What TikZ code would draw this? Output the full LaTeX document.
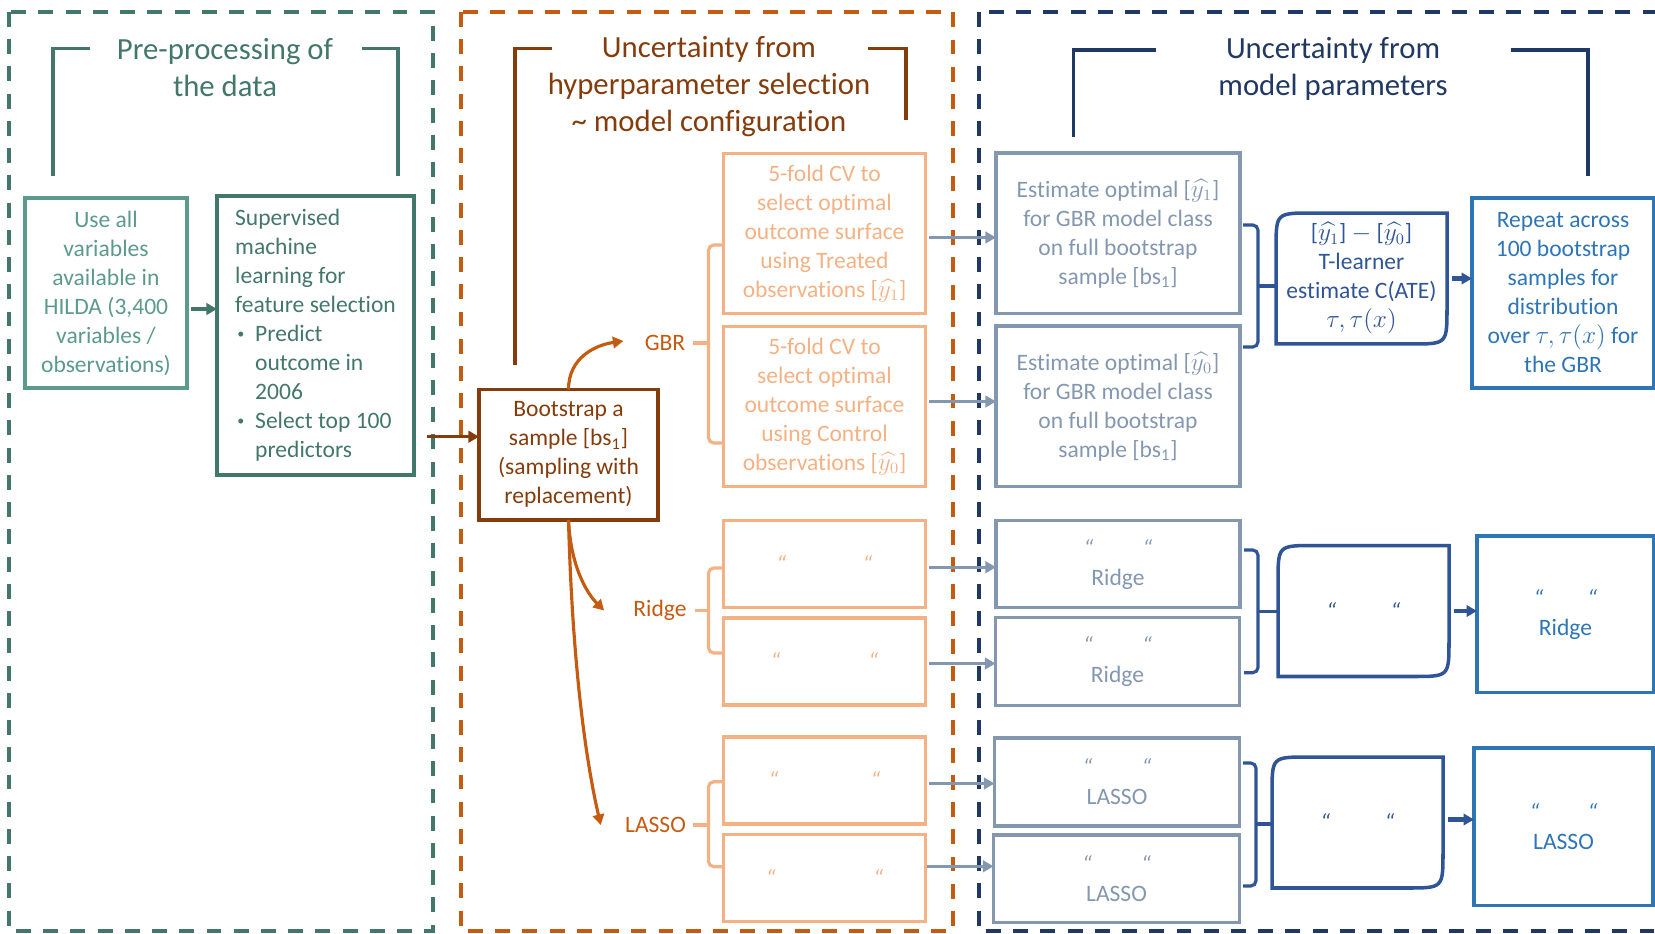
\documentclass[tikz,border=0pt]{standalone}
\usepackage{fontspec}
\setmainfont{Carlito}[Ligatures={TeX,NoCommon}]
\usepackage{amsmath}
\usepackage{xcolor}
\usetikzlibrary{calc}
\usetikzlibrary{arrows.meta}

\definecolor{tealdark}{HTML}{43776B}
\definecolor{teallight}{HTML}{5B9A8D}
\definecolor{brownish}{HTML}{843C0C}
\definecolor{orangeish}{HTML}{C55A11}
\definecolor{peach}{HTML}{F4B183}
\definecolor{greyblue}{HTML}{8497B0}
\definecolor{navy}{HTML}{203864}
\definecolor{midblue}{HTML}{2F5597}
\definecolor{skyblue}{HTML}{2E75B6}

\newcommand{\bodyfont}{\fontsize{13.4}{16.5}\selectfont}
\newcommand{\titlefont}{\fontsize{17.5}{21}\selectfont}
\newcommand{\yhat}[1]{[$\widehat{y_{#1}}$]}
\newcommand{\ditto}[1]{\textit{``}\hspace{#1}\textit{``}}
\newcommand{\bul}{\makebox[11.4pt][l]{\hspace{1.2pt}\raisebox{1.6pt}{\fontsize{8}{8}\selectfont\textbullet}}}
\newcommand{\ind}{\hspace*{11.4pt}}

\tikzset{
  zoneline/.style={line width=1.9pt, dash pattern=on 8.5pt off 7pt},
  headline/.style={line width=1.9pt},
  headtext/.style={align=center, font=\titlefont, inner sep=0pt},
  stagebox/.style={draw, line width=1.8pt, inner sep=0pt, outer sep=0pt, align=center, font=\bodyfont},
  modellabel/.style={font=\bodyfont, text=orangeish, inner sep=0pt},
  tnode/.style={inner sep=0pt, outer sep=0pt, align=center, font=\bodyfont, text=midblue, minimum width=3.42cm, minimum height=2.62cm},
  tline/.style={draw=midblue, line width=2pt},
  flowarrow/.style={-{Triangle[length=6pt,width=6.5pt]}, line width=1.8pt},
  bracketline/.style={line width=1.8pt, rounded corners=3pt},
}

\newcommand{\tframe}[1]{\draw[tline] ($(#1.north west)+(0,36)$) .. controls (#1.north west) .. ($(#1.north west)+(36,0)$) -- (#1.north east) -- ($(#1.south east)+(0,-36)$) .. controls (#1.south east) .. ($(#1.south east)+(-36,0)$) -- (#1.south west) -- cycle;}

\begin{document}
\begin{tikzpicture}[x=0.02cm, y=-0.02cm]
\useasboundingbox (0,0) rectangle (1655,933);
\clip (0,0) rectangle (1655,933);

\draw[zoneline, tealdark] (9,12) rectangle (433,931);
\draw[zoneline, orangeish] (461,12) rectangle (953,931);
\draw[zoneline, navy] (979,12) rectangle (1720,931);

\node[headtext, text=tealdark] (titlepre) at (225,67.5) {Pre-processing of\\the data};
\draw[headline, tealdark] (53,176) |- (90,48.5);
\draw[headline, tealdark] (362,48.5) -| (398,176);

\node[headtext, text=brownish] (titlehyp) at (709,86.5) {Uncertainty from\\hyperparameter selection\\\textasciitilde{} model configuration};
\draw[headline, brownish] (515,365) |- (552,48.5);
\draw[headline, brownish] (868,48.5) -| (906,120);

\node[headtext, text=navy] (titlepar) at (1333,69) {Uncertainty from\\model parameters};
\draw[headline, navy] (1073.5,136.5) |- (1156,50);
\draw[headline, navy] (1511,50) -| (1588,176);

\node[stagebox, draw=teallight, text=teallight, minimum width=3.24cm, minimum height=3.8cm] (useall) at (106,293) {Use all\\variables\\available in\\HILDA (3,400\\variables /\\observations)};
\node[stagebox, draw=tealdark, text=tealdark, align=left, minimum width=3.94cm, minimum height=5.58cm] (superv) at (315.5,335.5) {Supervised\\machine\\learning for\\feature selection\\\bul Predict\\\ind outcome in\\\ind 2006\\\bul Select top 100\\\ind predictors};
\coordinate (ua) at ($(useall.east)+(0,16)$);
\draw[flowarrow, tealdark, shorten <=2pt] (ua) -- (ua -| superv.west);

\node[stagebox, draw=brownish, text=brownish, minimum width=3.58cm, minimum height=2.61cm] (boot) at (568.5,454.75) {Bootstrap a\\sample [bs\textsubscript{1}]\\(sampling with\\replacement)};
\coordinate (zoneexit) at (427,436.7);
\draw[flowarrow, brownish] (zoneexit) -- (zoneexit -| boot.west);

\node[modellabel] (gbr) at (665,343) {GBR};
\node[modellabel] (ridge) at (660,610.5) {Ridge};
\node[modellabel] (lasso) at (655.5,825) {LASSO};

\draw[flowarrow, orangeish] (boot.north) .. controls +(0,-32) and +(-28,4) .. ($(gbr.west)+(-21,-2)$);
\draw[flowarrow, orangeish] (boot.south) .. controls +(2,45) and +(-18,-18) .. ($(ridge.west)+(-29,0)$);
\draw[flowarrow, orangeish] (boot.south) .. controls +(4,150) and +(-14,-60) .. ($(lasso.west)+(-24,0)$);

\node[stagebox, draw=peach, text=peach, minimum width=4.04cm, minimum height=3.2cm] (cvgbr1) at (824.5,233.5) {5-fold CV to\\select optimal\\outcome surface\\using Treated\\observations \yhat{1}};
\node[stagebox, draw=peach, text=peach, minimum width=4.04cm, minimum height=3.2cm] (cvgbr2) at (824.5,406.5) {5-fold CV to\\select optimal\\outcome surface\\using Control\\observations \yhat{0}};
\node[stagebox, draw=peach, text=peach, minimum width=4.04cm, minimum height=1.74cm] (cvridge1) at (824.5,564.2) {\ditto{43.5pt}};
\node[stagebox, draw=peach, text=peach, minimum width=4.04cm, minimum height=1.74cm] (cvridge2) at (824.5,661.5) {\ditto{50pt}};
\node[stagebox, draw=peach, text=peach, minimum width=4.04cm, minimum height=1.74cm] (cvlasso1) at (824.5,780.5) {\ditto{52.5pt}};
\node[stagebox, draw=peach, text=peach, minimum width=4.04cm, minimum height=1.74cm] (cvlasso2) at (824.5,878.3) {\ditto{55.5pt}};

\draw[bracketline, peach] ($(gbr.east)+(7,0)$) -- (708.5,343);
\draw[bracketline, peach] (cvgbr1.west |- 0,245) -| (708.5,443) -- (cvgbr2.west |- 0,443);
\draw[bracketline, peach] ($(ridge.east)+(8,0)$) -- (708.5,610.5);
\draw[bracketline, peach] (cvridge1.west |- 0,568) -| (708.5,653) -- (cvridge2.west |- 0,653);
\draw[bracketline, peach] ($(lasso.east)+(7,0)$) -- (708.5,825);
\draw[bracketline, peach] (cvlasso1.west |- 0,781.7) -| (708.5,866.7) -- (cvlasso2.west |- 0,866.7);

\node[stagebox, draw=greyblue, text=greyblue, minimum width=4.88cm, minimum height=3.21cm] (estgbr1) at (1118,233.3) {Estimate optimal \yhat{1}\\for GBR model class\\on full bootstrap\\sample [bs\textsubscript{1}]};
\node[stagebox, draw=greyblue, text=greyblue, minimum width=4.88cm, minimum height=3.21cm] (estgbr2) at (1118,406.3) {Estimate optimal \yhat{0}\\for GBR model class\\on full bootstrap\\sample [bs\textsubscript{1}]};
\node[stagebox, draw=greyblue, text=greyblue, minimum width=4.88cm, minimum height=1.74cm] (estridge1) at (1118,564.2) {\ditto{28pt}\\Ridge};
\node[stagebox, draw=greyblue, text=greyblue, minimum width=4.88cm, minimum height=1.76cm] (estridge2) at (1117.5,661.8) {\ditto{28pt}\\Ridge};
\node[stagebox, draw=greyblue, text=greyblue, minimum width=4.9cm, minimum height=1.76cm] (estlasso1) at (1117,782) {\ditto{28pt}\\LASSO};
\node[stagebox, draw=greyblue, text=greyblue, minimum width=4.92cm, minimum height=1.75cm] (estlasso2) at (1116.5,878.8) {\ditto{28pt}\\LASSO};

\coordinate (g1) at ($(cvgbr1.east)+(0,4)$);
\draw[flowarrow, greyblue, shorten <=2pt] (g1) -- (g1 -| estgbr1.west);
\coordinate (g2) at ($(cvgbr2.east)+(0,-5)$);
\draw[flowarrow, greyblue, shorten <=2pt] (g2) -- (g2 -| estgbr2.west);
\coordinate (r1) at ($(cvridge1.east)+(0,3)$);
\draw[flowarrow, greyblue, shorten <=2pt] (r1) -- (r1 -| estridge1.west);
\coordinate (r2) at ($(cvridge2.east)+(0,2)$);
\draw[flowarrow, greyblue, shorten <=2pt] (r2) -- (r2 -| estridge2.west);
\coordinate (l1) at ($(cvlasso1.east)+(0,3)$);
\draw[flowarrow, greyblue, shorten <=2pt] (l1) -- (l1 -| estlasso1.west);
\coordinate (l2) at ($(cvlasso2.east)+(0,-12)$);
\draw[flowarrow, greyblue, shorten <=1pt] (l2) -- (l2 -| estlasso2.west);

\node[tnode] (tgbr) at (1361.5,278.5) {\yhat{1} $-$ \yhat{0}\\T-learner\\estimate C(ATE)\\$\tau,\tau(x)$};
\node[tnode] (tridge) at (1363.5,611) {\ditto{31pt}};
\node[tnode] (tlasso) at (1357.5,822.5) {\ditto{31pt}};
\tframe{tgbr}
\tframe{tridge}
\tframe{tlasso}

\draw[bracketline, midblue] (1243,225) -| (1258,347) -- (1243,347);
\draw[bracketline, midblue] (1258,286) -- (tgbr.west |- 0,286);
\draw[bracketline, midblue] (1244,550) -| (1258,672.7) -- (1244,672.7);
\draw[bracketline, midblue] (1258,611.7) -- (tridge.west |- 0,611.7);
\draw[bracketline, midblue] (1243,763) -| (1256,886) -- (1243,886);
\draw[bracketline, midblue] (1256,824) -- (tlasso.west |- 0,824);

\node[stagebox, draw=skyblue, text=skyblue, minimum width=3.64cm, minimum height=3.8cm] (repgbr) at (1563,293) {Repeat across\\100 bootstrap\\samples for\\distribution\\over $\tau,\tau(x)$ for\\the GBR};
\node[stagebox, draw=skyblue, text=skyblue, minimum width=3.54cm, minimum height=3.13cm] (repridge) at (1565.5,614.3) {\ditto{25pt}\\Ridge};
\node[stagebox, draw=skyblue, text=skyblue, minimum width=3.58cm, minimum height=3.15cm] (replasso) at (1563.5,826.8) {\ditto{27.5pt}\\LASSO};

\draw[flowarrow, midblue, line width=2.3pt, shorten <=3pt] (tgbr.east) -- (tgbr.east -| repgbr.west);
\draw[flowarrow, midblue, line width=2.3pt, shorten <=3pt] (tridge.east) -- (tridge.east -| repridge.west);
\draw[flowarrow, midblue, line width=2.3pt, shorten <=3pt] ($(tlasso.east)+(0,-3)$) coordinate (tl) -- (tl -| replasso.west);
\end{tikzpicture}
\end{document}
